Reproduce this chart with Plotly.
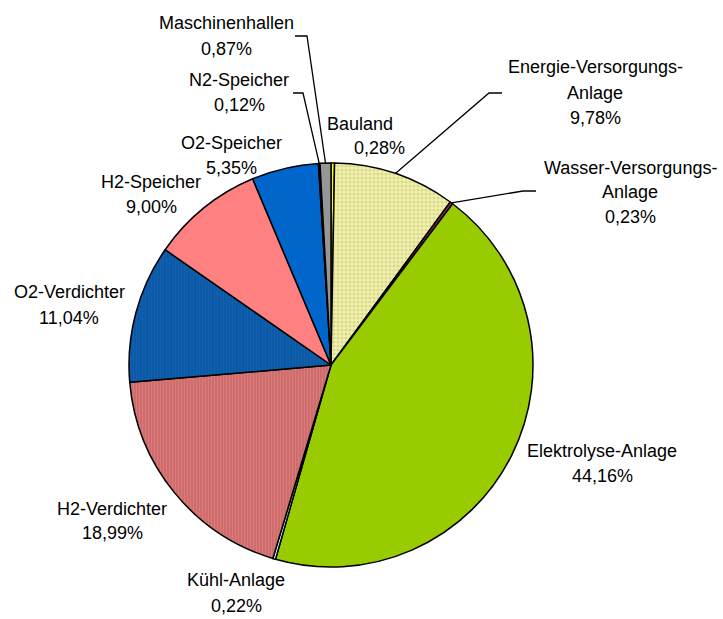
import math
import plotly.graph_objects as go

# Kostenanteile der Anlagenteile (in %), im Uhrzeigersinn ab 12 Uhr
categories = [
    "Bauland",
    "Energie-Versorgungs-Anlage",
    "Wasser-Versorgungs-Anlage",
    "Elektrolyse-Anlage",
    "Kühl-Anlage",
    "H2-Verdichter",
    "O2-Verdichter",
    "H2-Speicher",
    "O2-Speicher",
    "N2-Speicher",
    "Maschinenhallen",
]
shares = [0.28, 9.78, 0.23, 44.16, 0.22, 18.99, 11.04, 9.00, 5.35, 0.12, 0.87]

# how each name is broken into lines
name_lines = {
    "Energie-Versorgungs-Anlage": ["Energie-Versorgungs-", "Anlage"],
    "Wasser-Versorgungs-Anlage": ["Wasser-Versorgungs-", "Anlage"],
}

# ---- styling ----------------------------------------------------------
W, H = 723, 619
CX, CY, R = 331, 365, 202          # pie centre / radius in pixels
FONT = "Liberation Sans, Arial, sans-serif"
FS = 18

slice_colors = {
    "Bauland": "#FFFF00",
    "Energie-Versorgungs-Anlage": "#F2F2AA",
    "Wasser-Versorgungs-Anlage": "#993366",
    "Elektrolyse-Anlage": "#99CC00",
    "Kühl-Anlage": "#CCFFFF",
    "H2-Verdichter": "#CF6C6C",
    "O2-Verdichter": "#0B5AA8",
    "H2-Speicher": "#FF8080",
    "O2-Speicher": "#0066CC",
    "N2-Speicher": "#3366FF",
    "Maschinenhallen": "#969696",
}
pattern_shapes = {
    "Energie-Versorgungs-Anlage": (".", "#BFBF80", 4, 0.5),
    "H2-Verdichter": ("|", "#E48A8A", 3, 0.35),
    "O2-Verdichter": ("|", "#1E66B4", 3, 0.35),
}

# per-line label centres (x, y) in pixels
label_pos = {
    "Bauland": [(360, 124), (379, 148)],
    "Energie-Versorgungs-Anlage": [(595, 67), (595, 93), (595, 118)],
    "Wasser-Versorgungs-Anlage": [(630, 168), (630, 192), (630, 217)],
    "Elektrolyse-Anlage": [(602, 451), (602, 476)],
    "Kühl-Anlage": [(236, 580), (236, 606)],
    "H2-Verdichter": [(112, 509), (112, 533)],
    "O2-Verdichter": [(69, 292), (69, 318)],
    "H2-Speicher": [(151, 182), (151, 207)],
    "O2-Speicher": [(231, 143), (231, 168)],
    "N2-Speicher": [(239, 80), (239, 105)],
    "Maschinenhallen": [(226, 23), (226, 49)],
}
# leader-line bends (pixels), ending at the slice edge
leader_bends = {
    "Maschinenhallen": [(295, 36), (307, 36)],
    "N2-Speicher": [(293, 93), (303, 93)],
    "Energie-Versorgungs-Anlage": [(502, 93), (489, 93)],
    "Wasser-Versorgungs-Anlage": [(536, 191), (523, 191)],
}


def fmt_pct(v):
    return f"{v:.2f}".replace(".", ",") + "%"


def edge_point(idx):
    """Point on the rim at the middle angle of slice idx (clockwise from 12 o'clock)."""
    total = sum(shares)
    start = sum(shares[:idx])
    mid = (start + shares[idx] / 2) / total * 2 * math.pi
    return CX + R * math.sin(mid), CY - R * math.cos(mid)


fig = go.Figure()

fig.add_trace(
    go.Pie(
        labels=categories,
        values=shares,
        sort=False,
        direction="clockwise",
        rotation=0,
        textinfo="none",
        hoverinfo="label+percent",
        showlegend=False,
        marker=dict(
            colors=[slice_colors[c] for c in categories],
            line=dict(color="#000000", width=1.5),
            pattern=dict(
                shape=[pattern_shapes.get(c, ("",))[0] for c in categories],
                fgcolor=[pattern_shapes.get(c, ("", "#000"))[1] for c in categories],
                size=[pattern_shapes.get(c, ("", "", 4))[2] for c in categories],
                solidity=[pattern_shapes.get(c, ("", "", 4, 0.3))[3] for c in categories],
                fillmode="overlay",
            ),
        ),
        domain=dict(
            x=[(CX - R) / W, (CX + R) / W],
            y=[(H - CY - R) / H, (H - CY + R) / H],
        ),
    )
)

# pixel-space overlay axes for labels and leader lines
fig.update_layout(
    xaxis=dict(range=[0, W], visible=False, fixedrange=True, domain=[0, 1]),
    yaxis=dict(range=[H, 0], visible=False, fixedrange=True, domain=[0, 1]),
)

annotations = []
for c, v in zip(categories, shares):
    lines = name_lines.get(c, [c]) + [fmt_pct(v)]
    for text, (x, y) in zip(lines, label_pos[c]):
        annotations.append(
            dict(
                x=x, y=y, xref="x", yref="y", text=text, showarrow=False,
                xanchor="center", yanchor="middle",
                font=dict(family=FONT, size=FS, color="#000000"),
            )
        )

shapes = []
for c, bends in leader_bends.items():
    pts = bends + [edge_point(categories.index(c))]
    path = "M " + " L ".join(f"{px:.1f},{py:.1f}" for px, py in pts)
    shapes.append(
        dict(type="path", path=path, xref="x", yref="y",
             line=dict(color="#000000", width=1.3))
    )

fig.update_layout(
    width=W,
    height=H,
    margin=dict(l=0, r=0, t=0, b=0),
    paper_bgcolor="#FFFFFF",
    plot_bgcolor="rgba(0,0,0,0)",
    annotations=annotations,
    shapes=shapes,
    font=dict(family=FONT, size=FS),
)

fig.write_html("out.html")
